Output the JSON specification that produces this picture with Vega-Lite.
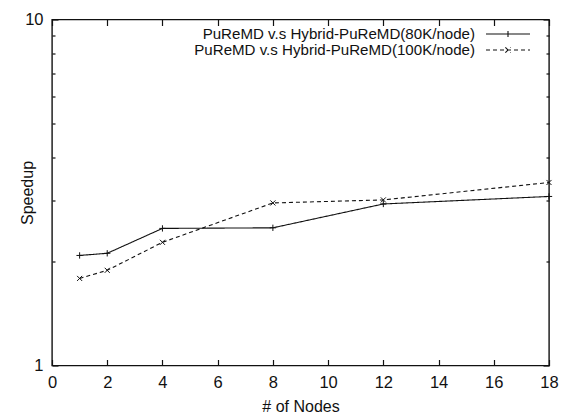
{
  "$schema": "https://vega.github.io/schema/vega-lite/v6.json",
  "autosize": {"type": "none"},
  "width": 497,
  "height": 346,
  "padding": {"left": 52, "top": 19.5, "right": 13, "bottom": 50.5},
  "background": "white",
  "config": {
    "view": {"stroke": "#111", "strokeWidth": 1.4},
    "font": "Liberation Sans",
    "axis": {"grid": false, "domain": false, "tickColor": "#111", "tickWidth": 1.2, "labelFont": "Liberation Sans", "labelFontSize": 16.5, "labelColor": "#111", "titleFont": "Liberation Sans", "titleFontSize": 16, "titleFontWeight": "normal", "titleColor": "#111", "labelFlush": false, "labelOverlap": false}
  },
  "data": {"values": [
    {"nodes": 1, "speedup": 2.08, "series": "PuReMD v.s Hybrid-PuReMD(80K/node)"},
    {"nodes": 2, "speedup": 2.11, "series": "PuReMD v.s Hybrid-PuReMD(80K/node)"},
    {"nodes": 4, "speedup": 2.49, "series": "PuReMD v.s Hybrid-PuReMD(80K/node)"},
    {"nodes": 8, "speedup": 2.50, "series": "PuReMD v.s Hybrid-PuReMD(80K/node)"},
    {"nodes": 12, "speedup": 2.93, "series": "PuReMD v.s Hybrid-PuReMD(80K/node)"},
    {"nodes": 18, "speedup": 3.08, "series": "PuReMD v.s Hybrid-PuReMD(80K/node)"},
    {"nodes": 1, "speedup": 1.785, "series": "PuReMD v.s Hybrid-PuReMD(100K/node)"},
    {"nodes": 2, "speedup": 1.884, "series": "PuReMD v.s Hybrid-PuReMD(100K/node)"},
    {"nodes": 4, "speedup": 2.27, "series": "PuReMD v.s Hybrid-PuReMD(100K/node)"},
    {"nodes": 8, "speedup": 2.95, "series": "PuReMD v.s Hybrid-PuReMD(100K/node)"},
    {"nodes": 12, "speedup": 3.01, "series": "PuReMD v.s Hybrid-PuReMD(100K/node)"},
    {"nodes": 18, "speedup": 3.38, "series": "PuReMD v.s Hybrid-PuReMD(100K/node)"}
  ]},
  "resolve": {"axis": {"x": "independent", "y": "independent"}},
  "layer": [
    {
      "mark": {"type": "line", "stroke": "#111", "strokeWidth": 1.1},
      "encoding": {
        "x": {"field": "nodes", "type": "quantitative", "scale": {"domain": [0, 18], "nice": false, "zero": false},
              "axis": {"orient": "bottom", "title": "# of Nodes", "values": [0, 2, 4, 6, 8, 10, 12, 14, 16, 18], "tickSize": -6, "labelPadding": 15, "titleX": 248.5, "titleY": 40.5, "titleAlign": "center", "titleBaseline": "middle"}},
        "y": {"field": "speedup", "type": "quantitative", "scale": {"type": "log", "domain": [1, 10], "nice": false},
              "axis": {"orient": "left", "title": "Speedup", "values": [1, 2, 3, 4, 5, 6, 7, 8, 9, 10],
                       "labelExpr": "datum.value == 1 || datum.value == 10 ? datum.label : ''",
                       "tickSize": {"condition": {"test": "datum.value == 1 || datum.value == 10", "value": -6}, "value": -3},
                       "labelPadding": 15, "titleX": -25, "titleY": 173, "titleAngle": 270, "titleAlign": "center", "titleBaseline": "middle"}},
        "strokeDash": {"field": "series", "type": "nominal",
          "scale": {"domain": ["PuReMD v.s Hybrid-PuReMD(80K/node)", "PuReMD v.s Hybrid-PuReMD(100K/node)"], "range": [[1, 0], [4, 3]]},
          "legend": {
            "orient": "none", "legendX": 433, "legendY": 7, "padding": 0, "title": null,
            "rowPadding": 0, "symbolSize": 1936, "symbolStrokeWidth": 1.1, "symbolStrokeColor": "#111", "symbolFillColor": "transparent",
            "labelAlign": "right", "labelOffset": -56, "labelFont": "Liberation Sans", "labelFontSize": 15.1, "labelColor": "#111", "labelLimit": 400,
            "encode": {
              "symbols": {"update": {
                "shape": {"signal": "datum.value == 'PuReMD v.s Hybrid-PuReMD(80K/node)' ? 'M-1,0L1,0M0,-0.14L0,0.14' : 'M-1,0L1,0M-0.12,-0.12L0.12,0.12M-0.12,0.12L0.12,-0.12'"},
                "y": {"value": 7.5},
                "fill": {"value": "transparent"},
                "stroke": {"value": "#111"},
                "opacity": {"value": 1}
              }},
              "labels": {"update": {"y": {"value": 7.5}}}
            }
          }}
      }
    },
    {
      "transform": [{"filter": "datum.series == 'PuReMD v.s Hybrid-PuReMD(80K/node)'"}],
      "mark": {"type": "point", "shape": "M-1,0L1,0M0,-1L0,1", "filled": false, "stroke": "#111", "strokeWidth": 1, "size": 40, "opacity": 1},
      "encoding": {
        "x": {"field": "nodes", "type": "quantitative", "axis": {"orient": "top", "title": null, "labels": false, "values": [0, 2, 4, 6, 8, 10, 12, 14, 16, 18], "tickSize": -6}},
        "y": {"field": "speedup", "type": "quantitative",
              "axis": {"orient": "right", "title": null, "labels": false, "values": [1, 2, 3, 4, 5, 6, 7, 8, 9, 10],
                       "tickSize": {"condition": {"test": "datum.value == 1 || datum.value == 10", "value": -6}, "value": -3}}}
      }
    },
    {
      "transform": [{"filter": "datum.series == 'PuReMD v.s Hybrid-PuReMD(100K/node)'"}],
      "mark": {"type": "point", "shape": "M-0.8,-0.8L0.8,0.8M-0.8,0.8L0.8,-0.8", "filled": false, "stroke": "#111", "strokeWidth": 1, "size": 40, "opacity": 1},
      "encoding": {
        "x": {"field": "nodes", "type": "quantitative", "axis": null},
        "y": {"field": "speedup", "type": "quantitative", "axis": null}
      }
    }
  ]
}
